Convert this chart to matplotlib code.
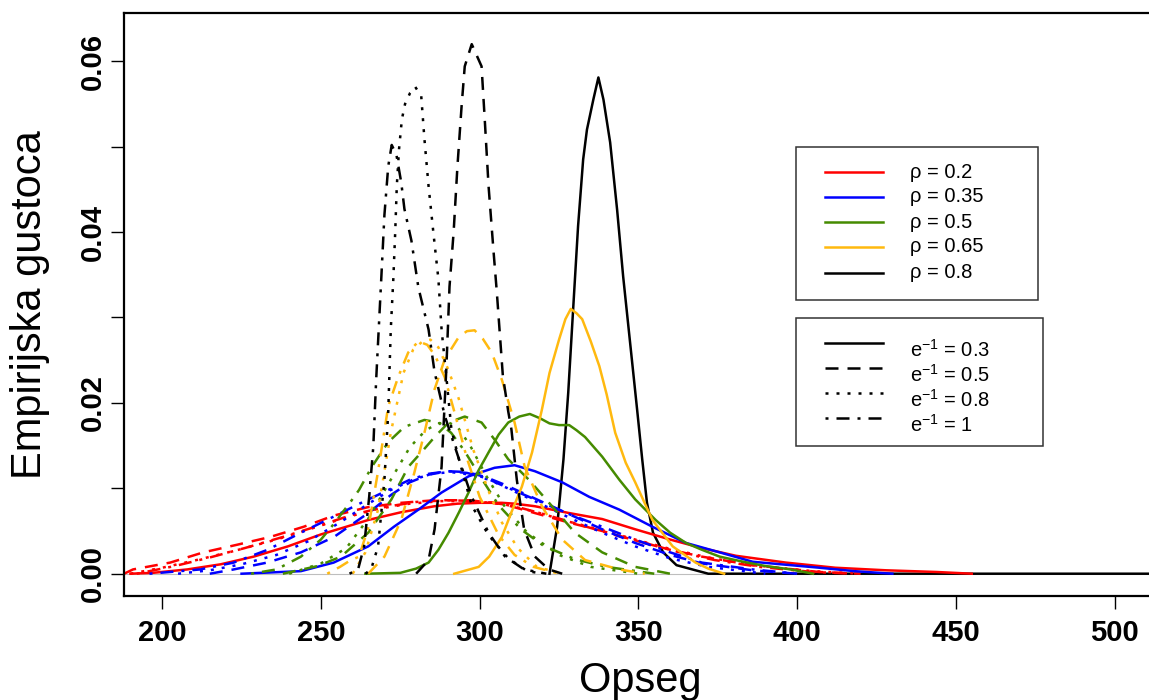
import matplotlib
matplotlib.use("Agg")
import matplotlib.pyplot as plt
from matplotlib.patches import Rectangle
from matplotlib.lines import Line2D

plt.rcParams['font.family'] = ['Liberation Sans', 'DejaVu Sans']
plt.rcParams['mathtext.fontset'] = 'custom'
plt.rcParams['mathtext.rm'] = 'Liberation Sans'
plt.rcParams['mathtext.it'] = 'Liberation Sans'
plt.rcParams['mathtext.default'] = 'regular'

# ---------------- data ----------------
# rho = 0.2 (red)
red_03_x = [190, 197, 207.9, 218.4, 228.8, 239.6, 250, 258, 265, 275.3, 285.8, 293, 300, 307, 311, 317.4, 328.2, 338.6, 349, 360, 370, 380.7, 396.5, 412, 428, 444, 455]
red_03_y = [0, 0.0001, 0.0005, 0.0011, 0.002, 0.0032, 0.0046, 0.0055, 0.0063, 0.0072, 0.0079, 0.0082, 0.0083, 0.0083, 0.0082, 0.0079, 0.0071, 0.0064, 0.0052, 0.004, 0.003, 0.0021, 0.0013, 0.0007, 0.0004, 0.0002, 0]
red_05_x = [188, 190.8, 202.5, 213, 223.7, 234, 244.6, 254, 264.9, 275.3, 285.8, 296.5, 307, 317.4, 328, 338.6, 349, 360, 370, 386, 407, 420]
red_05_y = [0, 0.0005, 0.0013, 0.0025, 0.0034, 0.0043, 0.0055, 0.0068, 0.0078, 0.0083, 0.0086, 0.0086, 0.0082, 0.0071, 0.006, 0.005, 0.0039, 0.0028, 0.002, 0.001, 0.0002, 0]
red_08_x = [190, 200, 212, 224, 236, 248, 258, 268, 278, 288, 298, 308, 318, 328, 338.6, 349, 360, 372, 386, 405, 420]
red_08_y = [0, 0.0007, 0.0017, 0.0028, 0.004, 0.0054, 0.0066, 0.0076, 0.0082, 0.0085, 0.0085, 0.0081, 0.0072, 0.0061, 0.0051, 0.004, 0.0029, 0.0019, 0.001, 0.0003, 0]
red_10_x = [192, 204, 215, 226, 238, 250, 260, 270, 280, 290, 300, 310, 320, 330, 340, 350, 362, 374, 388, 405, 418]
red_10_y = [0, 0.0009, 0.0019, 0.003, 0.0043, 0.0057, 0.0069, 0.0078, 0.0084, 0.0086, 0.0085, 0.008, 0.007, 0.0059, 0.0048, 0.0038, 0.0026, 0.0016, 0.0008, 0.0002, 0]

# rho = 0.35 (blue)
blue_03_x = [225, 243.7, 254, 264.9, 273, 280.7, 288, 296.5, 304.7, 311, 317.4, 326, 334.5, 344, 354.4, 365, 375.6, 386, 398, 407, 418, 430]
blue_03_y = [0, 0.0003, 0.0013, 0.0032, 0.0055, 0.0075, 0.0095, 0.0114, 0.0124, 0.0127, 0.012, 0.0107, 0.009, 0.0075, 0.0055, 0.0036, 0.0025, 0.0014, 0.001, 0.0007, 0.0003, 0]
blue_05_x = [215, 222.5, 233, 243.7, 254.1, 264.9, 272, 278, 284, 290, 296, 302, 308, 317.4, 328, 338.6, 349, 360, 370, 386, 400]
blue_05_y = [0, 0.0005, 0.0013, 0.0025, 0.0043, 0.0071, 0.0092, 0.0107, 0.0116, 0.012, 0.0119, 0.0113, 0.0104, 0.0088, 0.007, 0.0052, 0.0036, 0.0022, 0.0012, 0.0004, 0]
blue_08_x = [205, 215, 225, 236, 246, 256, 265, 272, 279, 285, 291, 297, 303, 310, 317.4, 328, 338.6, 349, 360, 372, 390]
blue_08_y = [0, 0.0004, 0.0011, 0.0022, 0.0038, 0.006, 0.0082, 0.0098, 0.011, 0.0117, 0.0119, 0.0116, 0.011, 0.0098, 0.0085, 0.0066, 0.0048, 0.0032, 0.0018, 0.0008, 0]
blue_10_x = [196, 212, 222.5, 233.2, 243.7, 254.1, 262.7, 271.2, 278, 284, 290, 296, 302, 308, 317.4, 328, 338.6, 349, 360, 370, 386, 400]
blue_10_y = [0, 0.0005, 0.0013, 0.0028, 0.0048, 0.0067, 0.0083, 0.0098, 0.011, 0.0117, 0.012, 0.0118, 0.0112, 0.0102, 0.0087, 0.007, 0.0055, 0.004, 0.0025, 0.0013, 0.0005, 0]

# rho = 0.5 (green)
green_03_x = [264, 275, 280, 283.9, 287, 290.2, 293.5, 296.5, 299.5, 302.8, 306, 309, 312.5, 315.8, 319, 322, 325, 328.2, 330.5, 333.2, 338.6, 344, 349, 355.4, 360, 365, 370, 375.6, 383, 390, 398, 405]
green_03_y = [0, 0.0001, 0.0006, 0.0013, 0.0028, 0.0048, 0.0072, 0.0095, 0.012, 0.0142, 0.0163, 0.0177, 0.0184, 0.0187, 0.0182, 0.0176, 0.0174, 0.0174, 0.0168, 0.016, 0.0137, 0.011, 0.0087, 0.0063, 0.0048, 0.0036, 0.0028, 0.002, 0.0014, 0.0009, 0.0005, 0]
green_05_x = [238, 249, 256.3, 264.9, 272.2, 277.5, 281.6, 285.8, 290.2, 295.3, 300.6, 304.7, 309, 315.5, 322.8, 330, 338.6, 349, 360]
green_05_y = [0, 0.0009, 0.002, 0.0048, 0.0087, 0.0125, 0.0142, 0.016, 0.0177, 0.0184, 0.0177, 0.0157, 0.0134, 0.011, 0.0079, 0.0048, 0.0025, 0.0008, 0]
green_08_x = [240, 250, 258, 265, 272, 278, 283, 287, 290.2, 293, 297, 302, 308, 315, 325, 335, 350]
green_08_y = [0, 0.0012, 0.003, 0.0065, 0.011, 0.0148, 0.0168, 0.0176, 0.0177, 0.0172, 0.015, 0.0115, 0.0078, 0.0048, 0.0022, 0.0008, 0]
green_10_x = [228, 236, 243.7, 250, 254, 259.5, 262, 266, 271.2, 276.3, 282.6, 287, 291, 295, 300, 306, 313, 320, 330, 340, 355]
green_10_y = [0, 0.0005, 0.002, 0.004, 0.0058, 0.0085, 0.0098, 0.0125, 0.0154, 0.0172, 0.018, 0.0177, 0.0165, 0.0145, 0.0115, 0.008, 0.0052, 0.0033, 0.0017, 0.0008, 0]

# rho = 0.65 (orange)
orange_03_x = [292, 299.7, 303, 307, 310, 313.3, 316.5, 319.6, 322, 325, 327, 328.7, 330.5, 332.3, 335, 337.7, 340, 342.7, 346, 349, 354.4, 360.8, 368, 372, 377]
orange_03_y = [0, 0.0008, 0.002, 0.0043, 0.0072, 0.0102, 0.0142, 0.0192, 0.0235, 0.0274, 0.0298, 0.031, 0.0305, 0.0298, 0.0272, 0.0243, 0.021, 0.0165, 0.013, 0.0107, 0.0063, 0.0032, 0.0013, 0.0006, 0]
orange_05_x = [264.9, 270, 275.3, 279.4, 282.6, 285.8, 289, 293.4, 296, 298.4, 301, 303.8, 307, 311, 314.2, 319.6, 326, 333.2, 344, 352]
orange_05_y = [0, 0.002, 0.0063, 0.0118, 0.0165, 0.0216, 0.0251, 0.0277, 0.0284, 0.0285, 0.0275, 0.0259, 0.0227, 0.0177, 0.0125, 0.0079, 0.004, 0.0016, 0.0005, 0]
orange_08_x = [260, 264, 268, 272, 276, 279, 282, 284.5, 287, 290, 293.4, 298, 303, 307, 312, 318, 326]
orange_08_y = [0, 0.0025, 0.0075, 0.0165, 0.0235, 0.0262, 0.0272, 0.0274, 0.0265, 0.024, 0.0205, 0.0145, 0.0095, 0.006, 0.003, 0.0008, 0]
orange_10_x = [252, 256, 259, 262, 265, 268, 271.2, 274.4, 277.5, 280.7, 283.5, 286, 289, 292, 296, 300, 306, 311, 317, 325]
orange_10_y = [0, 0.0008, 0.0015, 0.002, 0.0055, 0.012, 0.0196, 0.0231, 0.0259, 0.0272, 0.0268, 0.0255, 0.023, 0.019, 0.0135, 0.009, 0.0045, 0.0022, 0.0008, 0]

# rho = 0.8 (black)
black_03_x = [322, 324.4, 326.4, 327.9, 329.5, 331, 332.6, 333.8, 335.8, 337.4, 339, 341.1, 343.3, 345.2, 347.4, 349.6, 351.2, 352.7, 354.6, 357.8, 362, 367, 372, 520]
black_03_y = [0, 0.0055, 0.0134, 0.0212, 0.0313, 0.0407, 0.0485, 0.052, 0.0555, 0.0581, 0.0555, 0.0505, 0.0426, 0.0348, 0.027, 0.0192, 0.0134, 0.0083, 0.0048, 0.0025, 0.001, 0.0005, 0, 0]
black_05_x = [280, 283.9, 285.8, 288, 289.5, 290.5, 291.8, 293, 294.3, 295.3, 297.5, 300.6, 301.6, 302.8, 304.4, 305.4, 307.3, 309, 310, 311.7, 314, 317.4, 321.8, 326]
black_05_y = [0, 0.0016, 0.0052, 0.0125, 0.024, 0.0336, 0.04, 0.0477, 0.0547, 0.0594, 0.062, 0.0594, 0.0532, 0.0454, 0.0376, 0.033, 0.0232, 0.019, 0.0169, 0.011, 0.0052, 0.002, 0.0005, 0]
black_08_x = [264, 265.8, 268, 270, 271.2, 272, 272.8, 273.4, 273.9, 274.6, 275.5, 276.5, 278.1, 279.7, 281.6, 282.6, 283.9, 285.4, 287, 288, 289.6, 291.1, 293.4, 297.5, 302.8, 309, 315, 320]
black_08_y = [0, 0.0005, 0.0032, 0.011, 0.0189, 0.0286, 0.0345, 0.04, 0.0454, 0.0497, 0.0532, 0.055, 0.0563, 0.057, 0.0559, 0.0509, 0.0454, 0.04, 0.0345, 0.0286, 0.0227, 0.0169, 0.0135, 0.008, 0.0045, 0.0018, 0.0003, 0]
black_10_x = [259, 261.7, 263.6, 265.2, 266.5, 267.4, 268.2, 269, 270, 271.2, 272.3, 273.8, 275.3, 276.3, 278.5, 280.7, 283.9, 285.8, 289, 293.4, 297.5, 302.8, 308, 314, 321]
black_10_y = [0, 0.0005, 0.0032, 0.009, 0.0149, 0.0227, 0.0286, 0.0345, 0.042, 0.0477, 0.0502, 0.049, 0.0458, 0.0427, 0.039, 0.0335, 0.0286, 0.0236, 0.0185, 0.0135, 0.009, 0.0048, 0.002, 0.0005, 0]

rho_labels = ['ρ = 0.2', 'ρ = 0.35', 'ρ = 0.5', 'ρ = 0.65', 'ρ = 0.8']
e_labels = ['0.3', '0.5', '0.8', '1']
x_ticks = [200, 250, 300, 350, 400, 450, 500]
y_ticks = [0.0, 0.01, 0.02, 0.03, 0.04, 0.05, 0.06]
y_ticklabels = ['0.00', '', '0.02', '', '0.04', '', '0.06']

# ---------------- styles ----------------
RED, BLUE, GREEN, ORANGE, BLACK = '#FF0000', '#0000FF', '#458B00', '#FFB90F', '#000000'
rho_colors = [RED, BLUE, GREEN, ORANGE, BLACK]
LW = 1.8
styles = ['-', (0, (5.2, 3.6)), (0, (1.2, 3.2)), (0, (1.2, 3.2, 5.2, 3.2))]

W, H = 1149, 700
fig = plt.figure(figsize=(W / 100, H / 100), dpi=100)

def fx(px):
    return px / W

def fy(py):
    return 1 - py / H

ax_l, ax_r, ax_t, ax_b = 124, 1160, 13.4, 596
ax = fig.add_axes([fx(ax_l), fy(ax_b), (ax_r - ax_l) / W, (ax_b - ax_t) / H])
ax.set_xlim(187.97, 514.3)
ax.set_ylim(-0.00261, 0.0656)

ax.axhline(0, color='#BEBEBE', lw=0.8, zorder=1)

curves = [
    (black_03_x, black_03_y, BLACK, 0),
    (red_03_x, red_03_y, RED, 0), (red_05_x, red_05_y, RED, 1), (red_08_x, red_08_y, RED, 2), (red_10_x, red_10_y, RED, 3),
    (blue_03_x, blue_03_y, BLUE, 0), (blue_05_x, blue_05_y, BLUE, 1), (blue_08_x, blue_08_y, BLUE, 2), (blue_10_x, blue_10_y, BLUE, 3),
    (green_03_x, green_03_y, GREEN, 0), (green_05_x, green_05_y, GREEN, 1), (green_08_x, green_08_y, GREEN, 2), (green_10_x, green_10_y, GREEN, 3),
    (orange_03_x, orange_03_y, ORANGE, 0), (orange_05_x, orange_05_y, ORANGE, 1), (orange_08_x, orange_08_y, ORANGE, 2), (orange_10_x, orange_10_y, ORANGE, 3),
    (black_05_x, black_05_y, BLACK, 1), (black_08_x, black_08_y, BLACK, 2), (black_10_x, black_10_y, BLACK, 3),
]
for i, (xs, ys, c, s) in enumerate(curves):
    ax.plot(xs, ys, color=c, lw=LW, linestyle=styles[s], zorder=2 + i * 0.01,
            dash_capstyle='butt', solid_joinstyle='round')

for sp in ax.spines.values():
    sp.set_linewidth(1.6)
    sp.set_color('black')

ax.set_xticks(x_ticks)
ax.set_xticklabels([str(v) for v in x_ticks])
ax.set_yticks(y_ticks)
ax.set_yticklabels(y_ticklabels)
ax.tick_params(axis='both', direction='out', length=9.5, width=1.0, color='black')
ax.tick_params(axis='x', pad=7)
ax.tick_params(axis='y', pad=3)
for lab in ax.get_xticklabels():
    lab.set_fontsize(21)
    lab.set_fontweight('bold')
for lab in ax.get_yticklabels():
    lab.set_fontsize(21)
    lab.set_fontweight('bold')
    lab.set_rotation(90)
    lab.set_va('center')

fig.text(fx(640), fy(692), 'Opseg', fontsize=30, ha='center', va='baseline')
fig.text(fx(30), fy(305), 'Empirijska gustoca', fontsize=30, ha='center', va='center', rotation=90)

# ---------------- legends ----------------
def box(x0, y0, x1, y1):
    fig.add_artist(Rectangle((fx(x0), fy(y1)), fx(x1) - fx(x0), fy(y0) - fy(y1),
                             transform=fig.transFigure, facecolor='white', edgecolor='#333333', lw=1.1, zorder=5))

box(796, 147, 1038, 300)
rho_rows = [172, 197, 222, 247, 273]
for lab, c, r in zip(rho_labels, rho_colors, rho_rows):
    fig.add_artist(Line2D([fx(825), fx(883)], [fy(r), fy(r)], transform=fig.transFigure, color=c, lw=LW, zorder=6))
    fig.text(fx(910), fy(r), lab, fontsize=14.5, ha='left', va='center', zorder=6)

box(796, 318, 1043, 446)
e_rows = [343, 368, 393, 418]
for lab, s, r in zip(e_labels, styles, e_rows):
    fig.add_artist(Line2D([fx(825), fx(883)], [fy(r), fy(r)], transform=fig.transFigure, color='black',
                          lw=LW, linestyle=s, dash_capstyle='butt', zorder=6))
    fig.text(fx(910), fy(r + 14), 'e$^{-1}$ = ' + lab, fontsize=14.5, ha='left', va='baseline', zorder=6)

fig.savefig('out.png', dpi=100)
